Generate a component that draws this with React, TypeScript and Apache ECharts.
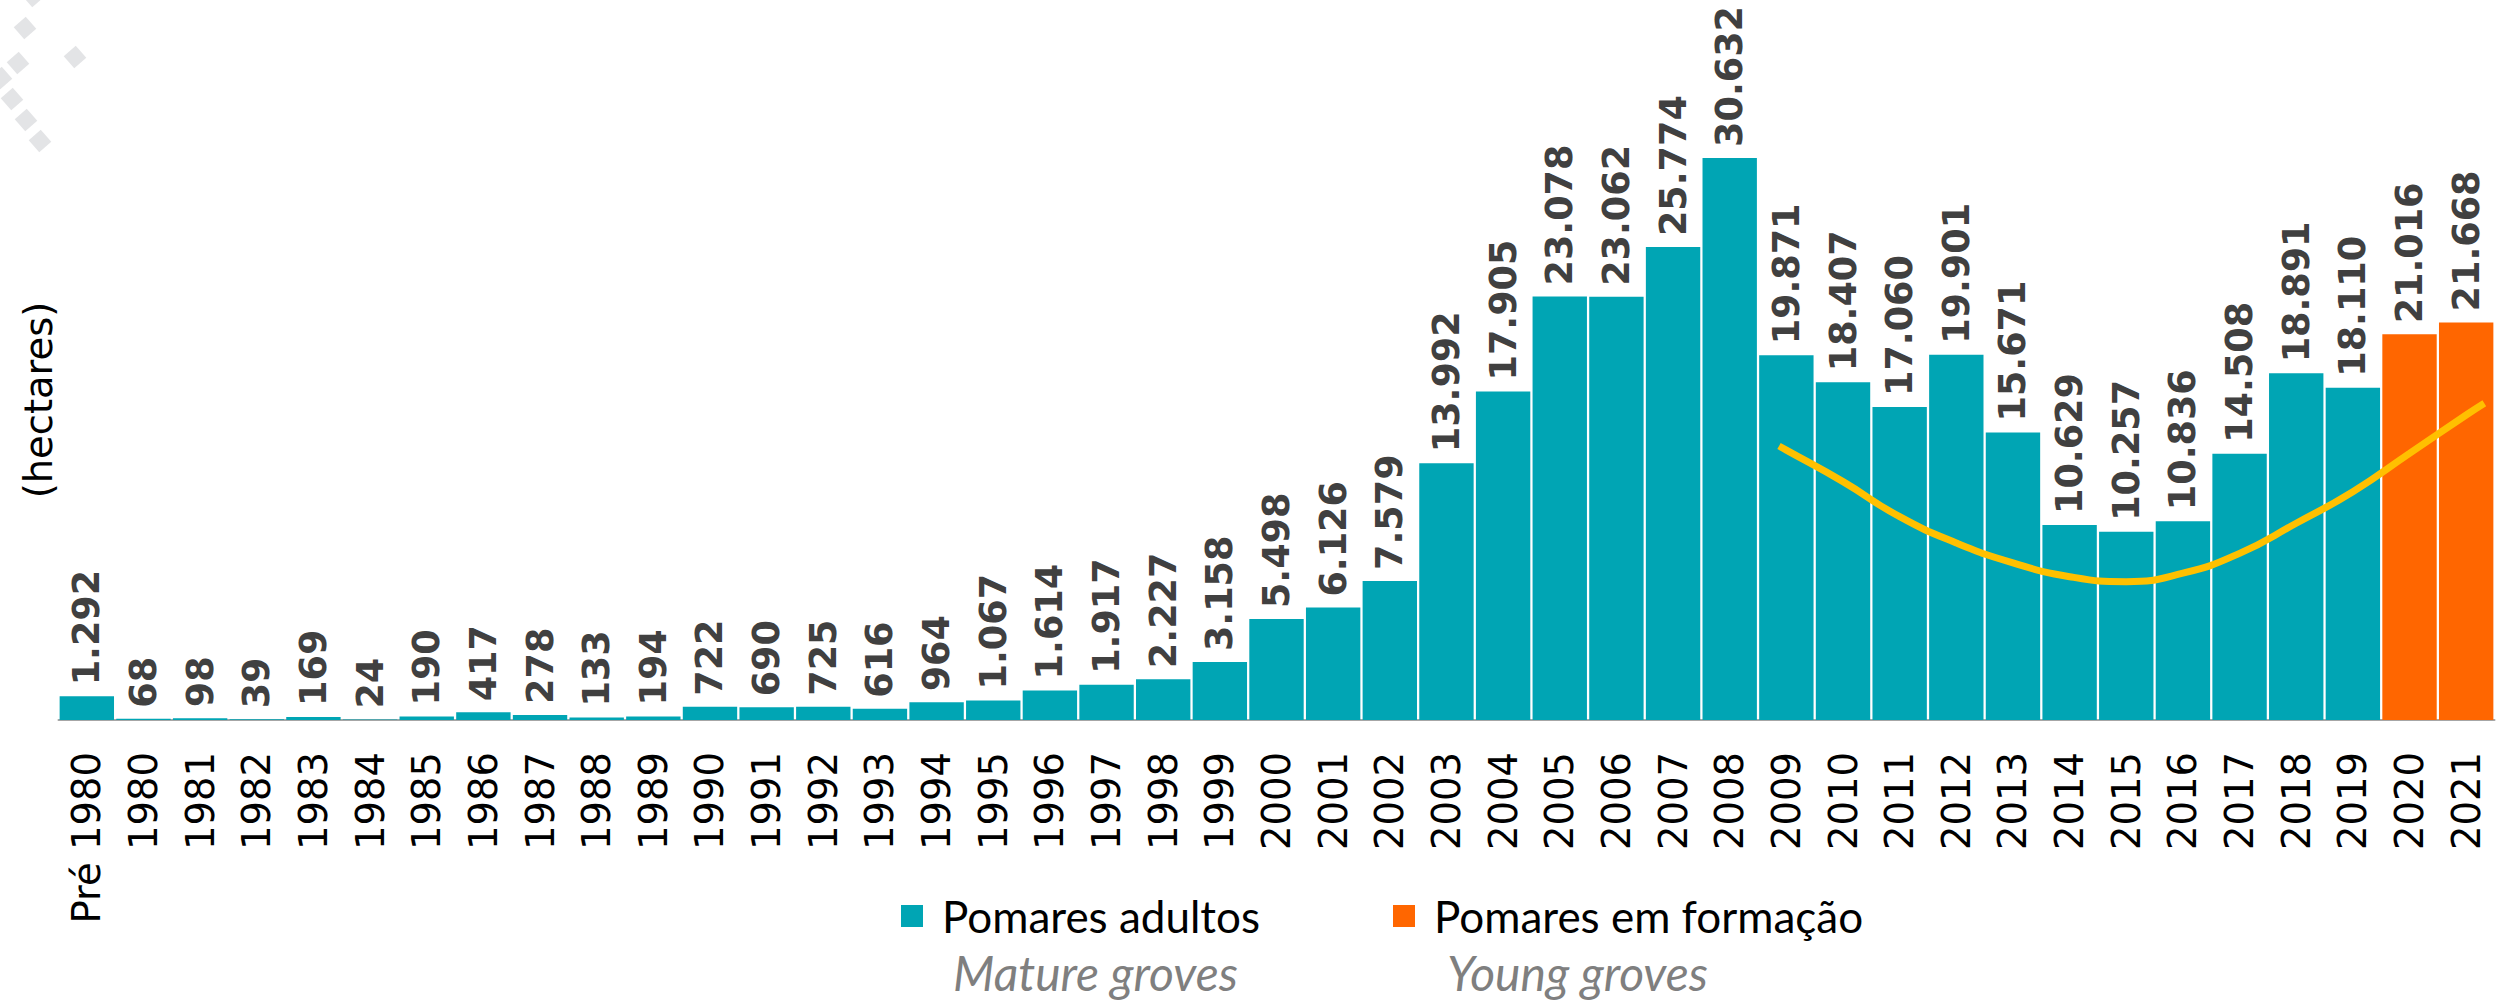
import React, { useEffect, useRef } from 'react';
import * as echarts from 'echarts';

// ---- data ----
const categories = ['Pré 1980', '1980', '1981', '1982', '1983', '1984', '1985', '1986', '1987', '1988', '1989',
  '1990', '1991', '1992', '1993', '1994', '1995', '1996', '1997', '1998', '1999',
  '2000', '2001', '2002', '2003', '2004', '2005', '2006', '2007', '2008', '2009',
  '2010', '2011', '2012', '2013', '2014', '2015', '2016', '2017', '2018', '2019', '2020', '2021'];

const adultosYears = ['Pré 1980', '1980', '1981', '1982', '1983', '1984', '1985', '1986', '1987', '1988', '1989',
  '1990', '1991', '1992', '1993', '1994', '1995', '1996', '1997', '1998', '1999',
  '2000', '2001', '2002', '2003', '2004', '2005', '2006', '2007', '2008', '2009',
  '2010', '2011', '2012', '2013', '2014', '2015', '2016', '2017', '2018', '2019'];
const adultosValues = [1292, 68, 98, 39, 169, 24, 190, 417, 278, 133, 194,
  722, 690, 725, 616, 964, 1067, 1614, 1917, 2227, 3158,
  5498, 6126, 7579, 13992, 17905, 23078, 23062, 25774, 30632, 19871,
  18407, 17060, 19901, 15671, 10629, 10257, 10836, 14508, 18891, 18110];

const formacaoYears = ['2020', '2021'];
const formacaoValues = [21016, 21668];

// trend line (x in years; "Pré 1980" sits at 1979)
const trendYears = [2008.87, 2009, 2010, 2011, 2012, 2013, 2014, 2015, 2016, 2017, 2018, 2019, 2020, 2021, 2021.32];
const trendValues = [14930, 14710, 12990, 11080, 9650, 8560, 7810, 7540, 8000, 9080, 10720, 12440, 14530, 16620, 17260];

const seriesNames = ['Pomares adultos', 'Pomares em formação'];
const seriesSubtitles = ['Mature groves', 'Young groves'];
const yAxisName = '(hectares)';

const TEAL = '#00A5B4';
const ORANGE = '#FF6600';
const YELLOW = '#FFC000';

const fmt = (v: number) =>
  v >= 1000 ? Math.floor(v / 1000) + '.' + String(v % 1000).padStart(3, '0') : String(v);

const adultosData = categories.map((c) => {
  const i = adultosYears.indexOf(c);
  return i >= 0 ? adultosValues[i] : null;
});
const formacaoData = categories.map((c) => {
  const i = formacaoYears.indexOf(c);
  return i >= 0 ? formacaoValues[i] : null;
});
const trendData = trendYears.map((y, i) => [y, trendValues[i]]);

const diamonds = [
  [33, -4], [25, 28], [75, 57], [18, 63], [1, 78], [12, 99], [26, 120], [40, 141],
];

const labelCfg = {
  show: true,
  position: 'top',
  rotate: 90,
  align: 'left',
  verticalAlign: 'middle',
  distance: 11,
  fontSize: 36.5,
  fontWeight: 'bold',
  fontFamily: 'DejaVu Sans',
  color: '#404040',
  formatter: (p: any) => (p.value == null ? '' : fmt(p.value)),
};

const legendText = { fontFamily: 'Lato', fontSize: 44, lineHeight: 44, color: '#000000', padding: [0, 0, 0, 14] };

export default function App() {
  const ref = useRef<HTMLDivElement>(null);
  useEffect(() => {
    document.body.style.margin = '0';
    document.body.style.overflow = 'hidden';
    const chart = echarts.init(ref.current!, null, { renderer: 'svg' });
    const option: any = {
      animation: false,
      backgroundColor: '#ffffff',
      grid: { left: 58.5, right: 3.5, top: 77.75, bottom: 281, containLabel: false },
      xAxis: [
        {
          type: 'category',
          data: categories,
          axisLine: { show: true, lineStyle: { color: '#A6A6A6', width: 2 } },
          axisTick: { show: false },
          axisLabel: {
            rotate: 90,
            interval: 0,
            margin: 32,
            fontSize: 38.5,
            fontFamily: 'DejaVu Sans',
            color: '#000000',
          },
          splitLine: { show: false },
        },
        {
          type: 'value',
          min: 1978.5,
          max: 2021.5,
          show: false,
          position: 'bottom',
        },
      ],
      yAxis: {
        type: 'value',
        min: 0,
        max: 35000,
        show: false,
        splitLine: { show: false },
      },
      legend: [
        {
          data: [seriesNames[0]],
          left: 901,
          top: 894,
          padding: 0,
          icon: 'rect',
          itemWidth: 22,
          itemHeight: 22,
          textStyle: legendText,
        },
        {
          data: [seriesNames[1]],
          left: 1393,
          top: 894,
          padding: 0,
          icon: 'rect',
          itemWidth: 22,
          itemHeight: 22,
          textStyle: legendText,
        },
      ],
      graphic: [
        ...diamonds.map(([x, y]) => ({
          type: 'rect',
          x,
          y,
          rotation: 0.72,
          shape: { x: -8, y: -8, width: 16, height: 16 },
          style: { fill: '#E3E4E6' },
          silent: true,
        })),
        {
          type: 'text',
          x: 38,
          y: 400,
          rotation: Math.PI / 2,
          style: {
            text: yAxisName,
            fontSize: 38.5,
            fontFamily: 'DejaVu Sans',
            fill: '#000000',
            align: 'center',
            verticalAlign: 'middle',
            textAlign: 'center',
            textVerticalAlign: 'middle',
          },
        },
        {
          type: 'text',
          x: 953,
          y: 972,
          style: {
            text: seriesSubtitles[0],
            fontSize: 48,
            lineHeight: 44,
            fontStyle: 'italic',
            fontFamily: 'Lato',
            fill: '#7F7F7F',
            verticalAlign: 'middle',
            textVerticalAlign: 'middle',
          },
        },
        {
          type: 'text',
          x: 1447,
          y: 972,
          style: {
            text: seriesSubtitles[1],
            fontSize: 48,
            lineHeight: 44,
            fontStyle: 'italic',
            fontFamily: 'Lato',
            fill: '#7F7F7F',
            verticalAlign: 'middle',
            textVerticalAlign: 'middle',
          },
        },
      ],
      series: [
        {
          name: seriesNames[0],
          type: 'bar',
          data: adultosData,
          barGap: '-100%',
          barCategoryGap: '4%',
          itemStyle: { color: TEAL },
          label: labelCfg,
          z: 2,
        },
        {
          name: seriesNames[1],
          type: 'bar',
          data: formacaoData,
          barGap: '-100%',
          barCategoryGap: '4%',
          itemStyle: { color: ORANGE },
          label: labelCfg,
          z: 2,
        },
        {
          name: 'trend',
          type: 'line',
          xAxisIndex: 1,
          data: trendData,
          smooth: true,
          showSymbol: false,
          symbol: 'none',
          lineStyle: { color: YELLOW, width: 7 },
          z: 5,
          silent: true,
        },
      ],
    };
    chart.setOption(option);
    return () => chart.dispose();
  }, []);
  return <div ref={ref} style={{ width: 2498, height: 1001 }} />;
}
